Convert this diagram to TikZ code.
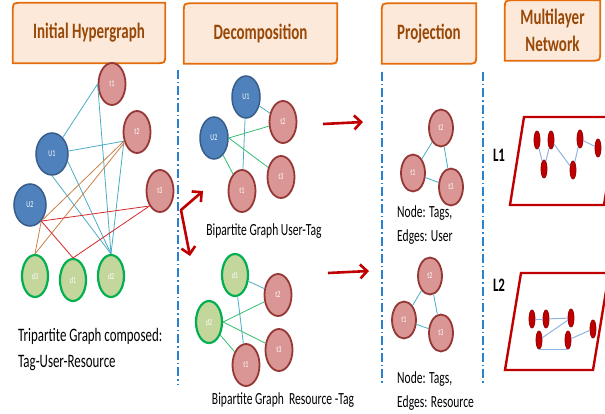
\documentclass[tikz,border=0pt]{standalone}
\usepackage{fontspec}
\setmainfont{Carlito}[FakeStretch=0.68]
\usepackage{tikz}
\usetikzlibrary{shapes.geometric, arrows.meta, calc, backgrounds}
\definecolor{cBoxLine}{RGB}{228,108,10}
\definecolor{cBoxFill}{RGB}{253,233,217}
\definecolor{cBoxText}{RGB}{152,72,7}
\definecolor{cTag}{RGB}{217,150,148}
\definecolor{cTagLine}{RGB}{149,55,53}
\definecolor{cUser}{RGB}{79,129,189}
\definecolor{cUserLine}{RGB}{56,93,138}
\definecolor{cRes}{RGB}{195,214,155}
\definecolor{cResLine}{RGB}{0,176,80}
\definecolor{cTeal}{RGB}{75,172,198}
\definecolor{cBrown}{RGB}{204,128,70}
\definecolor{cRed}{RGB}{214,40,40}
\definecolor{cGreen}{RGB}{51,190,110}
\definecolor{cArrow}{RGB}{192,0,0}
\definecolor{cDivider}{RGB}{40,130,205}
\definecolor{cLayerLine}{RGB}{150,0,0}
\definecolor{cLayerEdge}{RGB}{142,180,227}
\tikzset{
	headbox/.style  ={inner sep=0pt, minimum height=60pt, align=center, text=cBoxText, font=\fontsize{22}{27}\selectfont\bfseries},
	boxline/.style  ={draw=cBoxLine, fill=cBoxFill, line width=1.8pt},
	tagnode/.style  ={ellipse, draw=cTagLine, fill=cTag, line width=1.8pt, minimum width=27pt, minimum height=42pt, inner sep=0pt, text=white, font=\fontsize{9}{9}\selectfont},
	usernode/.style ={ellipse, draw=cUserLine, fill=cUser, line width=1.5pt, minimum width=32pt, minimum height=42pt, inner sep=0pt, text=white, font=\fontsize{9}{9}\selectfont},
	resnode/.style  ={ellipse, draw=cResLine, fill=cRes, line width=2.2pt, minimum width=26pt, minimum height=42pt, inner sep=0pt, text=white, font=\fontsize{9}{9}\selectfont},
	ptag/.style     ={tagnode, minimum width=24pt, minimum height=37pt},
	layernode/.style={ellipse, draw=cLayerLine, fill=cArrow, line width=0.8pt, minimum width=6pt, minimum height=18pt, inner sep=0pt},
	link/.style     ={line width=0.8pt},
	layerlink/.style={line width=1pt, draw=cLayerEdge},
	divider/.style  ={draw=cDivider, line width=1.4pt, dash pattern=on 9pt off 3pt on 1.5pt off 3pt},
	bigarrow/.style ={-{Straight Barb[length=7pt, width=14pt]}, line width=2.6pt, draw=cArrow},
	twoarrow/.style ={{Straight Barb[length=7pt, width=14pt]}-{Straight Barb[length=7pt, width=14pt]}, line width=2.6pt, draw=cArrow, line join=round},
	layer/.style    ={draw=cArrow, line width=2.4pt},
	lbl/.style      ={inner sep=0pt, align=left},
}
% header frame: round top-left and bottom-right corners only
\newcommand{\headframe}[1]{%
	\begin{scope}[on background layer]
		\draw[boxline] (#1.south west) -- ([yshift=-9pt]#1.north west) .. controls (#1.north west) .. ([xshift=9pt]#1.north west)
			-- (#1.north east) -- ([yshift=9pt]#1.south east) .. controls (#1.south east) .. ([xshift=-9pt]#1.south east) -- cycle;
	\end{scope}}

\begin{document}
\begin{tikzpicture}[x=1pt, y=-1pt, font=\fontsize{17}{24}\selectfont]
	\path[use as bounding box] (0,0) rectangle (605,414);
	\clip (0,0) rectangle (605,414);

	% headers
	\node[headbox, minimum width=152pt] (hInit) at (89,33) {Initial Hypergraph};
	\node[headbox, minimum width=153pt] (hDec) at (260.5,33.5) {Decomposition};
	\node[headbox, minimum width=94pt] (hProj) at (429,33.5) {Projection};
	\node[headbox, minimum width=95pt] (hMulti) at (552.5,30.5) {Multilayer\\Network};
	\foreach \h in {hInit, hDec, hProj, hMulti} {\headframe{\h}}

	\draw[divider] (178,70) -- (178,384);
	\draw[divider] (382,72) -- (382,384);
	\draw[divider] (483,72) -- (483,384);

	% initial hypergraph
	\node[tagnode] (ht1) at (112,84) {t1};
	\node[tagnode] (ht2) at (137,132) {t2};
	\node[tagnode] (ht3) at (160,191) {t3};
	\node[usernode] (hu1) at (52,154) {U1};
	\node[usernode] (hu2) at (30,205) {U2};
	\node[resnode] (hd3) at (35,276) {d3};
	\node[resnode] (hd1) at (73,280) {d1};
	\node[resnode] (hd2) at (111,276) {d2};

	\draw[link, cTeal] (hu1) -- (ht1.west);
	\draw[link, cTeal] (ht1.west) -- (hd2.north);
	\draw[link, cTeal] (hu1) -- (ht2.215);
	\draw[link, cTeal] (ht2.215) -- (hd2.north);
	\draw[link, cTeal] (hu1.south) -- (hd2.north);
	\draw[link, cTeal] (hu1.-25) -- (hd2.north);
	\draw[link, cBrown] (hu2.-55) -- (ht2.215);
	\draw[link, cBrown] (ht2.220) -- (hd3.north);
	\draw[link, cBrown] (hu2.-55) -- (hd3.north);
	\draw[link, cRed] (hu2.-55) -- (ht3.235);
	\draw[link, cRed] (ht3.235) -- (hd1.north);
	\draw[link, cRed] (hu2.-55) -- (hd1.north);

	\node[lbl, anchor=west, font=\fontsize{19}{26}\selectfont] (triTxt) at (18,350) {Tripartite Graph composed:\\Tag-User-Resource};

	% decomposition
	\node[usernode, minimum width=28pt] (uu1) at (246,97) {U1};
	\node[usernode, minimum width=28pt] (uu2) at (214,138) {U2};
	\node[tagnode] (ut2) at (283,122) {t2};
	\node[tagnode] (ut3) at (281,177) {t3};
	\node[tagnode] (ut1) at (242,191) {t1};
	\draw[link, cTeal] (uu1) -- (ut2);
	\draw[link, cTeal] (uu1) -- (ut1);
	\draw[link, cGreen] (uu2.east) -- (ut2);
	\draw[link, cGreen] (uu2.east) -- (ut3);
	\draw[link, cGreen] (uu2) -- (ut1);
	\node[lbl] (userTagTxt) at (264,231) {Bipartite Graph User-Tag};

	\node[resnode] (rd1) at (235,275) {d1};
	\node[resnode] (rd2) at (209,322) {d2};
	\node[tagnode] (rt2) at (278,295) {t2};
	\node[tagnode] (rt3) at (279,350) {t3};
	\node[tagnode] (rt1) at (246,365) {t1};
	\draw[link, cTeal] (rd1) -- (rt2);
	\draw[link, cTeal] (rd1) -- (rt1);
	\draw[link, cGreen] (rd2.east) -- (rt2);
	\draw[link, cGreen] (rd2.east) -- (rt3);
	\draw[link, cGreen] (rd2) -- (rt1);
	\node[lbl] (resTagTxt) at (283,400) {Bipartite Graph~~Resource -Tag};

	\coordinate (fork) at (181,210);
	\coordinate (forkUp) at (203,191);
	\coordinate (forkDown) at (190,256);
	\draw[twoarrow] (forkUp) -- (fork) -- (forkDown);
	\coordinate (arrUs) at (323,124);
	\coordinate (arrUe) at (363,122);
	\coordinate (arrLs) at (328,273);
	\coordinate (arrLe) at (369,271);
	\draw[bigarrow] (arrUs) -- (arrUe);
	\draw[bigarrow] (arrLs) -- (arrLe);

	% projection
	\node[ptag] (pa2) at (441,128) {t2};
	\node[ptag] (pa1) at (413,173) {t1};
	\node[ptag] (pa3) at (451,187) {t3};
	\draw[link, cTeal] (pa2) -- (pa1);
	\draw[link, cTeal] (pa2) -- (pa3);
	\draw[link, cTeal] (pa1) -- (pa3);
	\node[lbl, anchor=west] (projTxtA) at (397,225) {Node: Tags,\\Edges: User};

	\node[ptag] (pb2) at (430,276) {t2};
	\node[ptag] (pb1) at (404,320) {t1};
	\node[ptag] (pb3) at (441,333) {t3};
	\draw[link, cTeal] (pb2) -- (pb1);
	\draw[link, cTeal] (pb2) -- (pb3);
	\draw[link, cTeal] (pb1) -- (pb3);
	\node[lbl, anchor=west] (projTxtB) at (397,391) {Node: Tags,\\Edges: Resource};

	% multilayer network
	\node[font=\fontsize{19}{19}\selectfont\bfseries] (labL1) at (499,155) {L1};
	\draw[layer] (510,205) -- (524,117) -- (618,117) -- (604,205) -- cycle;
	\node[layernode] (la1) at (537,140) {};
	\node[layernode] (la2) at (551,140) {};
	\node[layernode] (la3) at (544,169) {};
	\node[layernode] (la4) at (573,170) {};
	\node[layernode] (la5) at (580,139) {};
	\node[layernode] (la6) at (598,148) {};
	\draw[layerlink] (la1) -- (la3);
	\draw[layerlink] (la3) -- (la2);
	\draw[layerlink] (la2) -- (la4);
	\draw[layerlink] (la4) -- (la5);
	\draw[layerlink] (la5) -- (la6);

	\node[font=\fontsize{19}{19}\selectfont\bfseries] (labL2) at (499,285) {L2};
	\draw[layer] (505,370) -- (521,273) -- (609,273) -- (593,370) -- cycle;
	\node[layernode] (lb1) at (532,319) {};
	\node[layernode] (lb2) at (546,319) {};
	\node[layernode] (lb3) at (571,318) {};
	\node[layernode] (lb4) at (539,340) {};
	\node[layernode] (lb5) at (568,340) {};
	\node[layernode] (lb6) at (593,329) {};
	\draw[layerlink] (lb1) -- (lb2);
	\draw[layerlink] (lb2) -- (lb3);
	\draw[layerlink] (lb4) -- (lb3);
	\draw[layerlink] (lb4.south) -- (lb5.south);
	\draw[layerlink] (lb5) -- (lb6);
\end{tikzpicture}
\end{document}
